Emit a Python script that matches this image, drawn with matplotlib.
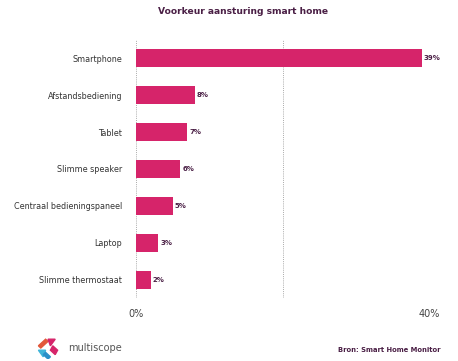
import matplotlib
matplotlib.use("Agg")
import matplotlib.pyplot as plt
from matplotlib.patches import Polygon

categories = ["Smartphone", "Afstandsbediening", "Tablet", "Slimme speaker",
              "Centraal bedieningspaneel", "Laptop", "Slimme thermostaat"]
values = [39, 8, 7, 6, 5, 3, 2]
xticks = [0, 40]
xticklabels = ["0%", "40%"]

W, H = 458, 361
fig = plt.figure(figsize=(W / 100, H / 100), dpi=100)
ax = fig.add_axes([136 / W, 1 - 298 / H, (429 - 136) / W, (298 - 40) / H])

bar_color = "#D6246A"
dark = "#4A1F45"

y = list(range(len(categories)))
ax.barh(y, values, height=0.49, color=bar_color, zorder=3)
for yi, v in zip(y, values):
    ax.text(v + 0.3, yi, f"{v}%", va="center", ha="left", fontsize=5,
            fontweight="bold", color=dark)

ax.set_xlim(0, 40)
ax.set_ylim(len(categories) - 0.5, -0.5)
ax.set_yticks(y)
ax.set_yticklabels(categories, fontsize=5.8, color="#333333")
ax.set_xticks(xticks)
ax.set_xticklabels(xticklabels, fontsize=7, color="#444444")
ax.tick_params(axis="both", length=0)
ax.tick_params(axis="y", pad=10)
ax.tick_params(axis="x", pad=8)
for s in ax.spines.values():
    s.set_visible(False)
for gx in [0, 20, 40]:
    ax.axvline(gx, color="#AAAAAA", linestyle=(0, (1, 1.2)), linewidth=0.7, zorder=1)

fig.text(243 / W, 1 - 11 / H, "Voorkeur aansturing smart home", ha="center", va="center",
         fontsize=6.6, fontweight="bold", color=dark)
fig.text(440 / W, 1 - 350 / H, "Bron: Smart Home Monitor", ha="right", va="center",
         fontsize=4.9, fontweight="bold", color=dark)

# logo
lax = fig.add_axes([36 / W, 1 - 359 / H, 24 / W, 22 / H])
lax.set_xlim(0, 10)
lax.set_ylim(0, 10)
lax.axis("off")
lax.add_patch(Polygon([[1, 6], [4, 9], [5, 8], [2, 5]], color="#E2573A"))
lax.add_patch(Polygon([[5, 9], [8, 9], [6, 6]], color="#D6246A"))
lax.add_patch(Polygon([[7, 6], [9, 4], [8, 2], [6, 4]], color="#D6246A"))
lax.add_patch(Polygon([[1, 4], [4, 4], [3, 1]], color="#3FB4D8"))
lax.add_patch(Polygon([[4, 3], [6, 1], [5, 0], [3, 2]], color="#2A8FC8"))
fig.text(68 / W, 1 - 348 / H, "multiscope", ha="left", va="center",
         fontsize=7, color="#555555")

fig.savefig("out.png", dpi=100)
